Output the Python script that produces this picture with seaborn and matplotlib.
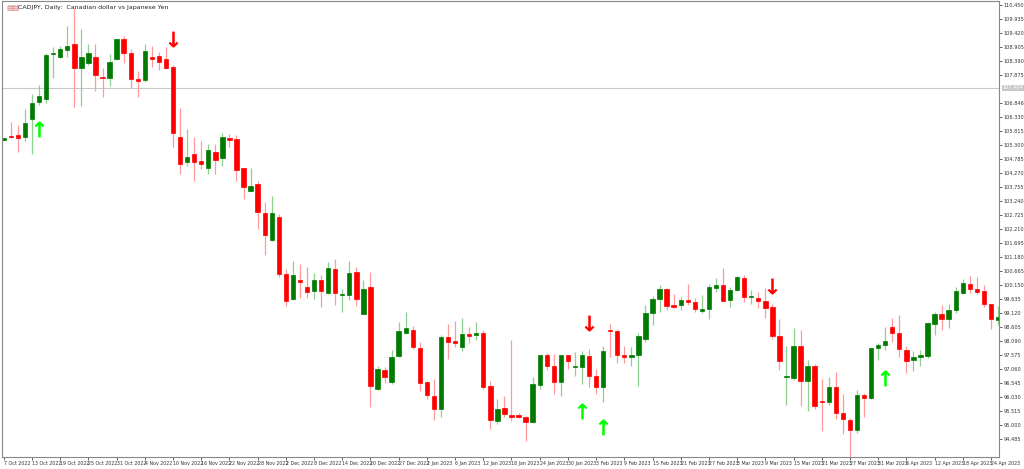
import matplotlib
matplotlib.use("Agg")
import matplotlib.pyplot as plt
import seaborn as sns
import numpy as np
import pandas as pd

opens = [105.50,105.63,105.66,105.61,106.24,106.89,107.01,108.63,108.52,108.79,109.03,108.13,108.32,108.54,107.77,107.76,108.45,109.19,108.68,107.73,
107.69,108.54,108.59,108.45,108.18,105.58,104.69,104.97,104.72,104.46,105.06,104.83,105.56,105.51,104.45,103.60,103.87,102.79,101.79,102.67,
100.54,99.65,100.35,100.06,99.93,100.32,99.86,100.74,99.78,99.78,100.64,99.10,100.06,96.33,97.01,96.59,97.53,98.37,98.51,97.82,
96.58,96.08,95.58,98.23,98.10,97.88,98.34,98.31,98.37,96.43,95.15,95.62,95.38,95.37,95.28,95.12,96.48,97.56,97.17,96.57,
97.56,97.12,97.14,97.53,96.81,96.40,98.50,98.46,97.57,97.50,97.57,98.16,99.12,99.65,99.99,99.40,99.40,99.59,99.53,99.20,
99.27,100.03,100.15,99.59,99.98,100.42,99.71,99.69,99.58,99.34,98.28,96.75,96.74,97.90,96.63,97.16,95.88,95.86,96.39,95.44,
95.19,94.81,96.10,95.98,97.83,97.94,98.61,98.40,97.77,97.39,97.49,97.52,98.71,99.08,98.89,99.22,99.86,100.20,100.00,99.92,
99.44,98.86]
highs = [105.57,106.13,106.05,106.64,107.19,107.52,108.69,108.91,108.95,109.68,110.34,109.57,109.02,109.02,108.15,108.65,109.21,109.32,108.84,108.03,
109.02,108.95,108.73,108.91,108.23,106.67,105.90,105.61,105.46,105.32,105.35,105.76,105.72,105.68,104.47,104.47,103.96,103.22,103.41,102.75,
100.73,101.02,100.91,100.80,100.58,100.51,100.98,101.09,99.99,101.02,100.80,100.32,100.62,97.17,97.13,97.76,98.78,99.15,98.64,98.05,
96.62,96.69,98.31,98.71,98.82,98.93,98.60,98.78,98.49,96.62,95.96,96.07,98.12,95.44,95.33,96.76,97.57,97.64,97.61,97.57,
97.57,97.68,97.72,97.79,97.06,97.90,98.71,98.53,97.90,97.86,98.38,99.41,99.74,100.14,100.03,99.81,99.70,100.18,99.66,99.77,
100.18,100.40,100.76,100.07,100.47,100.51,99.96,99.88,100.03,99.44,98.89,97.90,98.56,98.49,97.39,97.24,96.69,96.76,96.95,96.14,
95.26,96.29,96.18,97.83,98.01,98.60,98.93,99.04,97.90,97.72,97.76,98.78,99.15,99.41,99.44,100.07,100.36,100.47,100.43,100.14,
99.44,99.37]
lows = [105.46,105.57,105.03,105.46,104.98,106.78,106.86,107.75,108.51,108.54,106.71,106.75,108.25,107.30,107.05,107.48,108.43,108.32,107.41,107.08,
107.63,108.18,108.07,108.10,105.24,104.25,104.54,103.99,104.40,104.25,104.25,104.51,105.24,103.99,103.30,103.59,102.20,101.24,101.76,100.43,
99.37,99.59,99.66,99.66,99.63,99.33,99.81,99.41,99.15,99.59,99.37,99.08,95.66,96.29,96.54,96.51,97.50,98.34,97.79,96.25,
95.96,95.19,95.30,97.42,97.87,97.72,98.01,98.12,96.32,94.86,95.04,95.30,95.15,95.26,94.42,95.08,96.32,97.02,96.14,96.07,
97.06,96.80,96.51,96.40,96.14,95.85,97.50,97.28,97.28,97.17,96.43,98.05,98.67,99.15,99.22,99.30,99.22,99.41,99.15,99.11,
98.89,99.88,99.55,99.33,99.92,99.52,99.44,99.30,98.93,98.16,97.02,95.74,96.65,95.70,95.52,95.59,94.78,95.74,95.22,94.67,
93.83,94.71,95.30,95.96,97.39,97.76,98.05,97.50,96.91,96.98,97.17,97.46,98.31,98.49,98.56,99.11,99.81,99.85,99.81,99.33,
98.53,98.67]
closes = [105.54,105.60,105.56,106.12,106.86,107.09,108.62,108.65,108.85,108.95,108.15,108.52,108.67,107.88,107.75,108.36,109.19,108.69,107.74,107.67,
108.77,108.46,108.37,108.15,105.73,104.61,104.86,104.69,104.61,105.12,104.75,105.58,105.49,104.37,103.77,103.80,102.83,101.99,102.79,100.57,
99.56,100.50,100.25,99.89,100.32,99.92,100.79,99.87,99.80,100.61,99.65,100.00,96.44,97.05,96.75,97.51,98.46,98.57,97.88,96.55,
96.09,95.58,98.23,98.06,98.02,98.34,98.29,98.40,96.41,95.19,95.58,95.40,95.30,95.31,95.12,96.51,97.56,97.18,96.57,97.56,
97.34,97.14,97.56,96.81,96.40,97.71,98.46,97.57,97.50,97.57,98.27,99.12,99.65,100.02,99.38,99.33,99.59,99.53,99.25,99.25,
100.06,100.15,99.58,99.98,100.45,99.71,99.73,99.56,99.31,98.27,97.36,96.76,97.90,96.63,97.16,95.70,95.86,96.40,95.45,95.21,
94.82,96.10,95.98,97.82,97.93,98.09,98.37,97.78,97.35,97.49,97.56,98.76,99.10,98.89,99.22,99.93,100.22,100.00,99.91,99.44,
98.89,98.96]

up_arrow_idx = [5, 82, 85, 125]
up_arrow_price = [105.90, 95.52, 94.93, 96.73]
down_arrow_idx = [24, 83, 109]
down_arrow_price = [109.20, 98.75, 100.10]

date_labels = ["7 Oct 2022","13 Oct 2022","19 Oct 2022","25 Oct 2022","31 Oct 2022","4 Nov 2022","10 Nov 2022",
"16 Nov 2022","22 Nov 2022","28 Nov 2022","2 Dec 2022","8 Dec 2022","14 Dec 2022","20 Dec 2022","27 Dec 2022",
"2 Jan 2023","6 Jan 2023","12 Jan 2023","18 Jan 2023","24 Jan 2023","30 Jan 2023","3 Feb 2023","9 Feb 2023",
"15 Feb 2023","21 Feb 2023","27 Feb 2023","3 Mar 2023","9 Mar 2023","15 Mar 2023","21 Mar 2023","27 Mar 2023",
"31 Mar 2023","6 Apr 2023","12 Apr 2023","18 Apr 2023","24 Apr 2023"]
price_ticks = [110.450,109.935,109.420,108.905,108.390,107.875,106.846,106.330,105.815,105.300,104.785,104.270,
103.755,103.240,102.725,102.210,101.695,101.180,100.665,100.150,99.635,99.120,98.605,98.090,97.575,97.060,
96.545,96.030,95.515,95.000,94.485]
current_price = 107.404

sns.set_style("white")
plt.rcParams['font.family'] = ['DejaVu Sans']

df = pd.DataFrame({"o": opens, "h": highs, "l": lows, "c": closes})
df["i"] = np.arange(len(df))
df["bull"] = df["c"] >= df["o"]

fig = plt.figure(figsize=(10.24, 4.69), dpi=100)
ax = fig.add_axes([0.002, 0.026, 0.974, 0.972])

green = "#007a00"; red = "#ff0000"
for bull, col, wcol in [(True, green, "#8fcf8f"), (False, red, "#ff9a9a")]:
    d = df[df["bull"] == bull]
    ax.vlines(d["i"], d["l"], d["h"], color=wcol, lw=0.9, zorder=1)
    bottom = np.minimum(d["o"], d["c"])
    height = np.maximum(np.abs(d["c"] - d["o"]), 0.04)
    ax.bar(d["i"], height, bottom=bottom, width=0.62, color=col, edgecolor=col, lw=0.5, zorder=2)

sns.scatterplot(x=up_arrow_idx, y=up_arrow_price, marker=r"$\mathbf{\uparrow}$", s=130,
                color="#00ff00", linewidth=0, ax=ax, zorder=3)
sns.scatterplot(x=down_arrow_idx, y=down_arrow_price, marker=r"$\mathbf{\downarrow}$", s=130,
                color="#ff0000", linewidth=0, ax=ax, zorder=3)

ax.axhline(current_price, color="#c8c8c8", lw=0.8, zorder=0)

ax.set_xlim(-0.25, len(df) - 1 + 0.2)
ax.set_ylim(93.83, 110.60)
ax.yaxis.tick_right()
ax.set_yticks(price_ticks)
ax.set_yticklabels([f"{p:.3f}" for p in price_ticks], fontsize=3.6, color="#333333")
ax.tick_params(axis="y", length=2, width=0.5, pad=1, direction="out", right=True)
ax.text(1.003, (current_price - 93.83) / (110.60 - 93.83), f"{current_price:.3f}", transform=ax.transAxes,
        fontsize=3.6, color="white", va="center", ha="left",
        bbox=dict(boxstyle="square,pad=0.15", fc="#c8c8c8", ec="none"))

xt = list(range(0, 4 * len(date_labels), 4))
ax.set_xticks(xt)
ax.set_xticklabels(date_labels, fontsize=3.4, ha="left", color="#333333")
ax.tick_params(axis="x", length=2, width=0.5, pad=1, bottom=True)
for s in ax.spines.values():
    s.set_color("#888888"); s.set_linewidth(0.8)

ax.text(0.004, 0.992, "\u25a4\u25a4", transform=ax.transAxes, fontsize=5, color="#d07070", va="top")
ax.text(0.016, 0.992, "CADJPY, Daily:  Canadian dollar vs Japanese Yen", transform=ax.transAxes,
        fontsize=4.5, color="#222222", va="top")

fig.savefig("out.png", dpi=100)
